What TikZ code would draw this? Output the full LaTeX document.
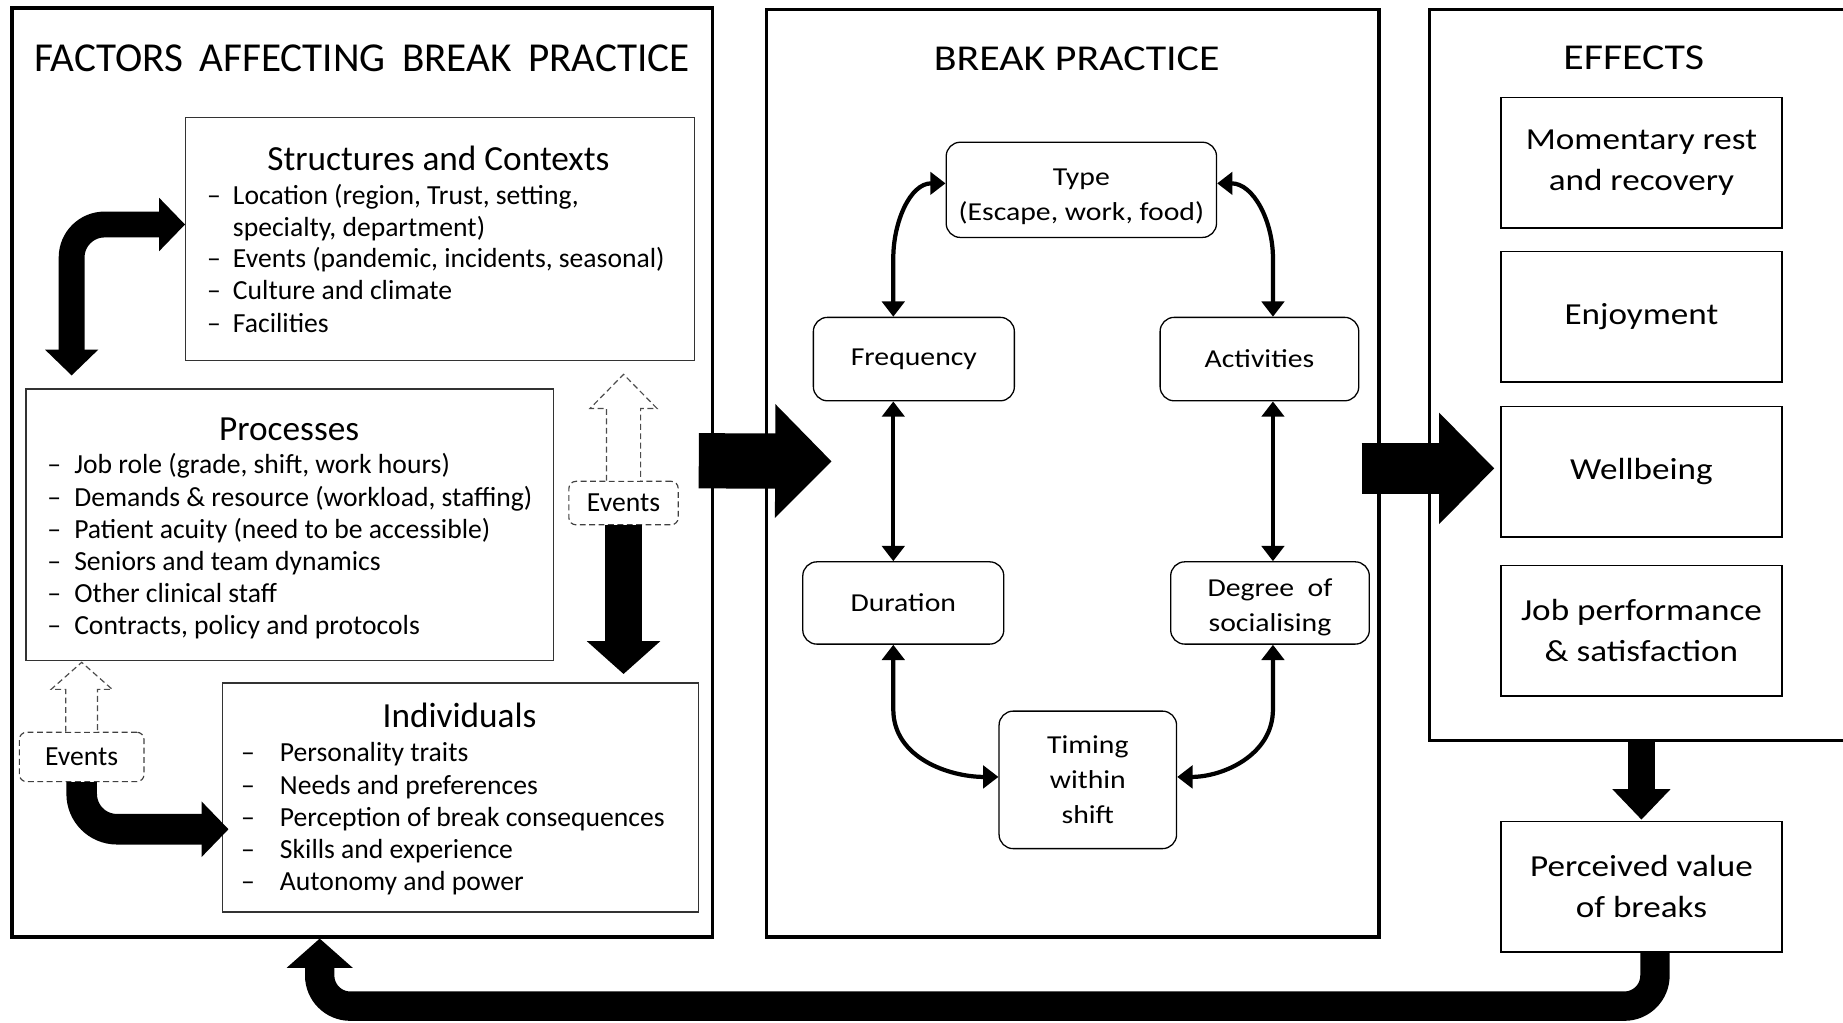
\documentclass[tikz,border=0pt]{standalone}
\usepackage{fontspec}
\setmainfont{Carlito}
\newfontfamily\widefont[FakeStretch=1.15]{Carlito}
\usetikzlibrary{arrows.meta}
\newcommand{\listdash}[2][22pt]{\makebox[#1][l]{--}#2}

\begin{document}
\begin{tikzpicture}[x=1pt,y=-1pt,
	panel/.style={draw, line width=3pt, inner sep=0pt},
	listbox/.style={draw=black!80, line width=1.1pt, inner sep=0pt},
	headtext/.style={inner sep=0pt, font=\fontsize{30}{36}\selectfont},
	itemtext/.style={anchor=west, inner sep=0pt, text height=16pt, text depth=5pt, font=\fontsize{23.5}{28}\selectfont},
	stage/.style={draw, line width=1.1pt, rounded corners=12pt, align=center, inner sep=0pt, font=\widefont\fontsize{22}{30}\selectfont},
	effect/.style={draw, line width=1.3pt, align=center, inner sep=0pt, minimum width=239pt, minimum height=111pt, font=\widefont\fontsize{26}{35}\selectfont},
	events/.style={draw=black!75, dash pattern=on 5pt off 3pt, line width=1pt, rounded corners=6pt, inner sep=0pt, minimum height=37pt, font=\fontsize{23.5}{28}\selectfont},
	hollow/.style={draw=black!70, dash pattern=on 5pt off 3pt, line width=1pt, fill=white},
	link/.style={line width=3.6pt, >={Triangle[length=13pt,width=19pt]}, <->},
]
	\useasboundingbox (0,0) rectangle (1568,870);
	\clip (0,0) rectangle (1568,870);
	%\draw[help lines] (0,0) grid[step=100] (1568,870);

	% the three panels
	\node[panel, minimum width=596pt, minimum height=790pt] (factors) at (308,402) {};
	\node[panel, minimum width=521pt, minimum height=789pt] (practice) at (912.5,402.5) {};
	\node[panel, minimum width=384pt, minimum height=622pt] (effects) at (1408,319) {};
	\node[font=\fontsize{35}{40}\selectfont] (ftitle) at (308,50) {FACTORS\hspace{0.4em}AFFECTING\hspace{0.4em}BREAK\hspace{0.4em}PRACTICE};
	\node[font=\widefont\fontsize{31}{36}\selectfont] (ptitle) at (916,50) {BREAK PRACTICE};
	\node[font=\widefont\fontsize{31}{36}\selectfont] (etitle) at (1390,49) {EFFECTS};

	% factors
	\node[listbox, minimum width=433pt, minimum height=207pt] (str) at (374.5,203.5) {};
	\node[headtext] (strhead) at (373,135) {Structures and Contexts};
	\node[itemtext] (s1) at (176,168.5) {\listdash{Location (region, Trust, setting,}};
	\node[itemtext] (s2) at (198,195.5) {specialty, department)};
	\node[itemtext] (s3) at (176,222.5) {\listdash{Events (pandemic, incidents, seasonal)}};
	\node[itemtext] (s4) at (176,249.5) {\listdash{Culture and climate}};
	\node[itemtext] (s5) at (176,277.5) {\listdash{Facilities}};

	\node[listbox, minimum width=449pt, minimum height=231pt] (proc) at (246.5,446.5) {};
	\node[headtext] (prochead) at (246,365) {Processes};
	\node[itemtext] (p1) at (40,397.5) {\listdash[23pt]{Job role (grade, shift, work hours)}};
	\node[itemtext] (p2) at (40,425.5) {\listdash[23pt]{Demands \& resource (workload, staffing)}};
	\node[itemtext] (p3) at (40,452.5) {\listdash[23pt]{Patient acuity (need to be accessible)}};
	\node[itemtext] (p4) at (40,479.5) {\listdash[23pt]{Seniors and team dynamics}};
	\node[itemtext] (p5) at (40,507.5) {\listdash[23pt]{Other clinical staff}};
	\node[itemtext] (p6) at (40,534.5) {\listdash[23pt]{Contracts, policy and protocols}};

	\node[listbox, minimum width=405pt, minimum height=195pt] (indiv) at (391.5,678.5) {};
	\node[headtext] (indhead) at (391,609) {Individuals};
	\node[itemtext] (i1) at (205,642.5) {\listdash[33pt]{Personality traits}};
	\node[itemtext] (i2) at (205,670.5) {\listdash[33pt]{Needs and preferences}};
	\node[itemtext] (i3) at (205,697.5) {\listdash[33pt]{Perception of break consequences}};
	\node[itemtext] (i4) at (205,724.5) {\listdash[33pt]{Skills and experience}};
	\node[itemtext] (i5) at (205,752.5) {\listdash[33pt]{Autonomy and power}};

	\node[events, minimum width=93pt] (evA) at (530.5,428) {Events};
	\node[events, minimum width=106pt, minimum height=42pt] (evB) at (69.5,644) {Events};
	\draw[hollow] ([xshift=-14.5pt]evA.north) -- ++(0,-61.5) -- ++(-14,0) -- ++(28.5,-29) -- ++(28.5,29) -- ++(-14,0) -- ++(0,61.5);
	\draw[hollow] ([xshift=-13.5pt]evB.north) -- ++(0,-36) -- ++(-12.5,0) -- ++(26,-23) -- ++(26,23) -- ++(-12.5,0) -- ++(0,36);

	\draw[line width=22pt, rounded corners=28pt, >={Triangle[length=22pt,width=44pt]}, <->] ([xshift=39.5pt,yshift=11pt]proc.north west) |- ([yshift=12.5pt]str.west);
	\draw[line width=32pt, >={Triangle[length=28pt,width=61pt]}, ->] (evA.south) -- ([yshift=7pt]evA.south |- indiv.north);
	\draw[line width=26pt, rounded corners=30pt, >={Triangle[length=23pt,width=46pt]}, ->] (evB.south) |- ([xshift=6pt,yshift=-27pt]indiv.west);

	% break practice
	\node[stage, minimum width=230pt, minimum height=81pt] (type) at (920,161.5) {\rule{0pt}{26pt}Type\\(Escape, work, food)};
	\node[stage, minimum width=171pt, minimum height=71pt] (freq) at (777.5,305.5) {Frequency};
	\node[stage, minimum width=169pt, minimum height=71pt] (act) at (1071.5,305.5) {Activities};
	\node[stage, minimum width=171pt, minimum height=70pt] (dur) at (768.5,513) {Duration};
	\node[stage, minimum width=169pt, minimum height=70pt] (deg) at (1080.5,513) {\rule{0pt}{23pt}Degree\ \ of\\socialising};
	\node[stage, minimum width=151pt, minimum height=117pt] (tim) at (925.5,663.5) {Timing\\within\\shift};

	\draw[link] ([xshift=-17.5pt]freq.north) -- ++(0,-50) to[out=90,in=180] ([yshift=5.5pt]type.west);
	\draw[link] ([xshift=11.5pt]act.north) -- ++(0,-50) to[out=90,in=0] ([yshift=5.5pt]type.east);
	\draw[link] ([xshift=-17.5pt]freq.south) -- ([xshift=-17.5pt]freq.south |- dur.north);
	\draw[link] ([xshift=11.5pt]act.south) -- ([xshift=11.5pt]act.south |- deg.north);
	\draw[link] ([xshift=-8.5pt]dur.south) -- ++(0,55) to[out=270,in=180] ([yshift=2.5pt]tim.west);
	\draw[link] ([xshift=2.5pt]deg.south) -- ++(0,55) to[out=270,in=0] ([yshift=2.5pt]tim.east);

	% effects
	\node[effect] (mom) at (1396.5,138.5) {Momentary rest\\and recovery};
	\node[effect] (enj) at (1396.5,269.5) {Enjoyment};
	\node[effect] (well) at (1396.5,401.5) {Wellbeing};
	\node[effect] (job) at (1396.5,536.5) {Job performance\\\& satisfaction};
	\node[effect] (perc) at (1396.5,754.5) {Perceived value\\of breaks};

	% big arrows between panels
	\draw[line width=47pt, >={Triangle[length=48pt,width=94pt]}, ->] ([xshift=-13pt,yshift=10pt]factors.east) -- ([xshift=57pt,yshift=10pt]practice.west);
	\draw[line width=43pt, >={Triangle[length=47pt,width=92pt]}, ->] ([xshift=-16pt,yshift=4pt]practice.east) -- ([xshift=-5pt,yshift=3pt]well.west);
	\draw[line width=23pt, >={Triangle[length=26pt,width=48pt]}, ->] (perc.north |- effects.south) -- ([yshift=1pt]perc.north);
	\coordinate (fb) at (840,856);
	\draw[line width=25pt, rounded corners=26pt, >={Triangle[length=25pt,width=55pt]}, ->] ([xshift=11.5pt]perc.south) |- (fb) -| ([xshift=-36pt]factors.south);
\end{tikzpicture}
\end{document}
